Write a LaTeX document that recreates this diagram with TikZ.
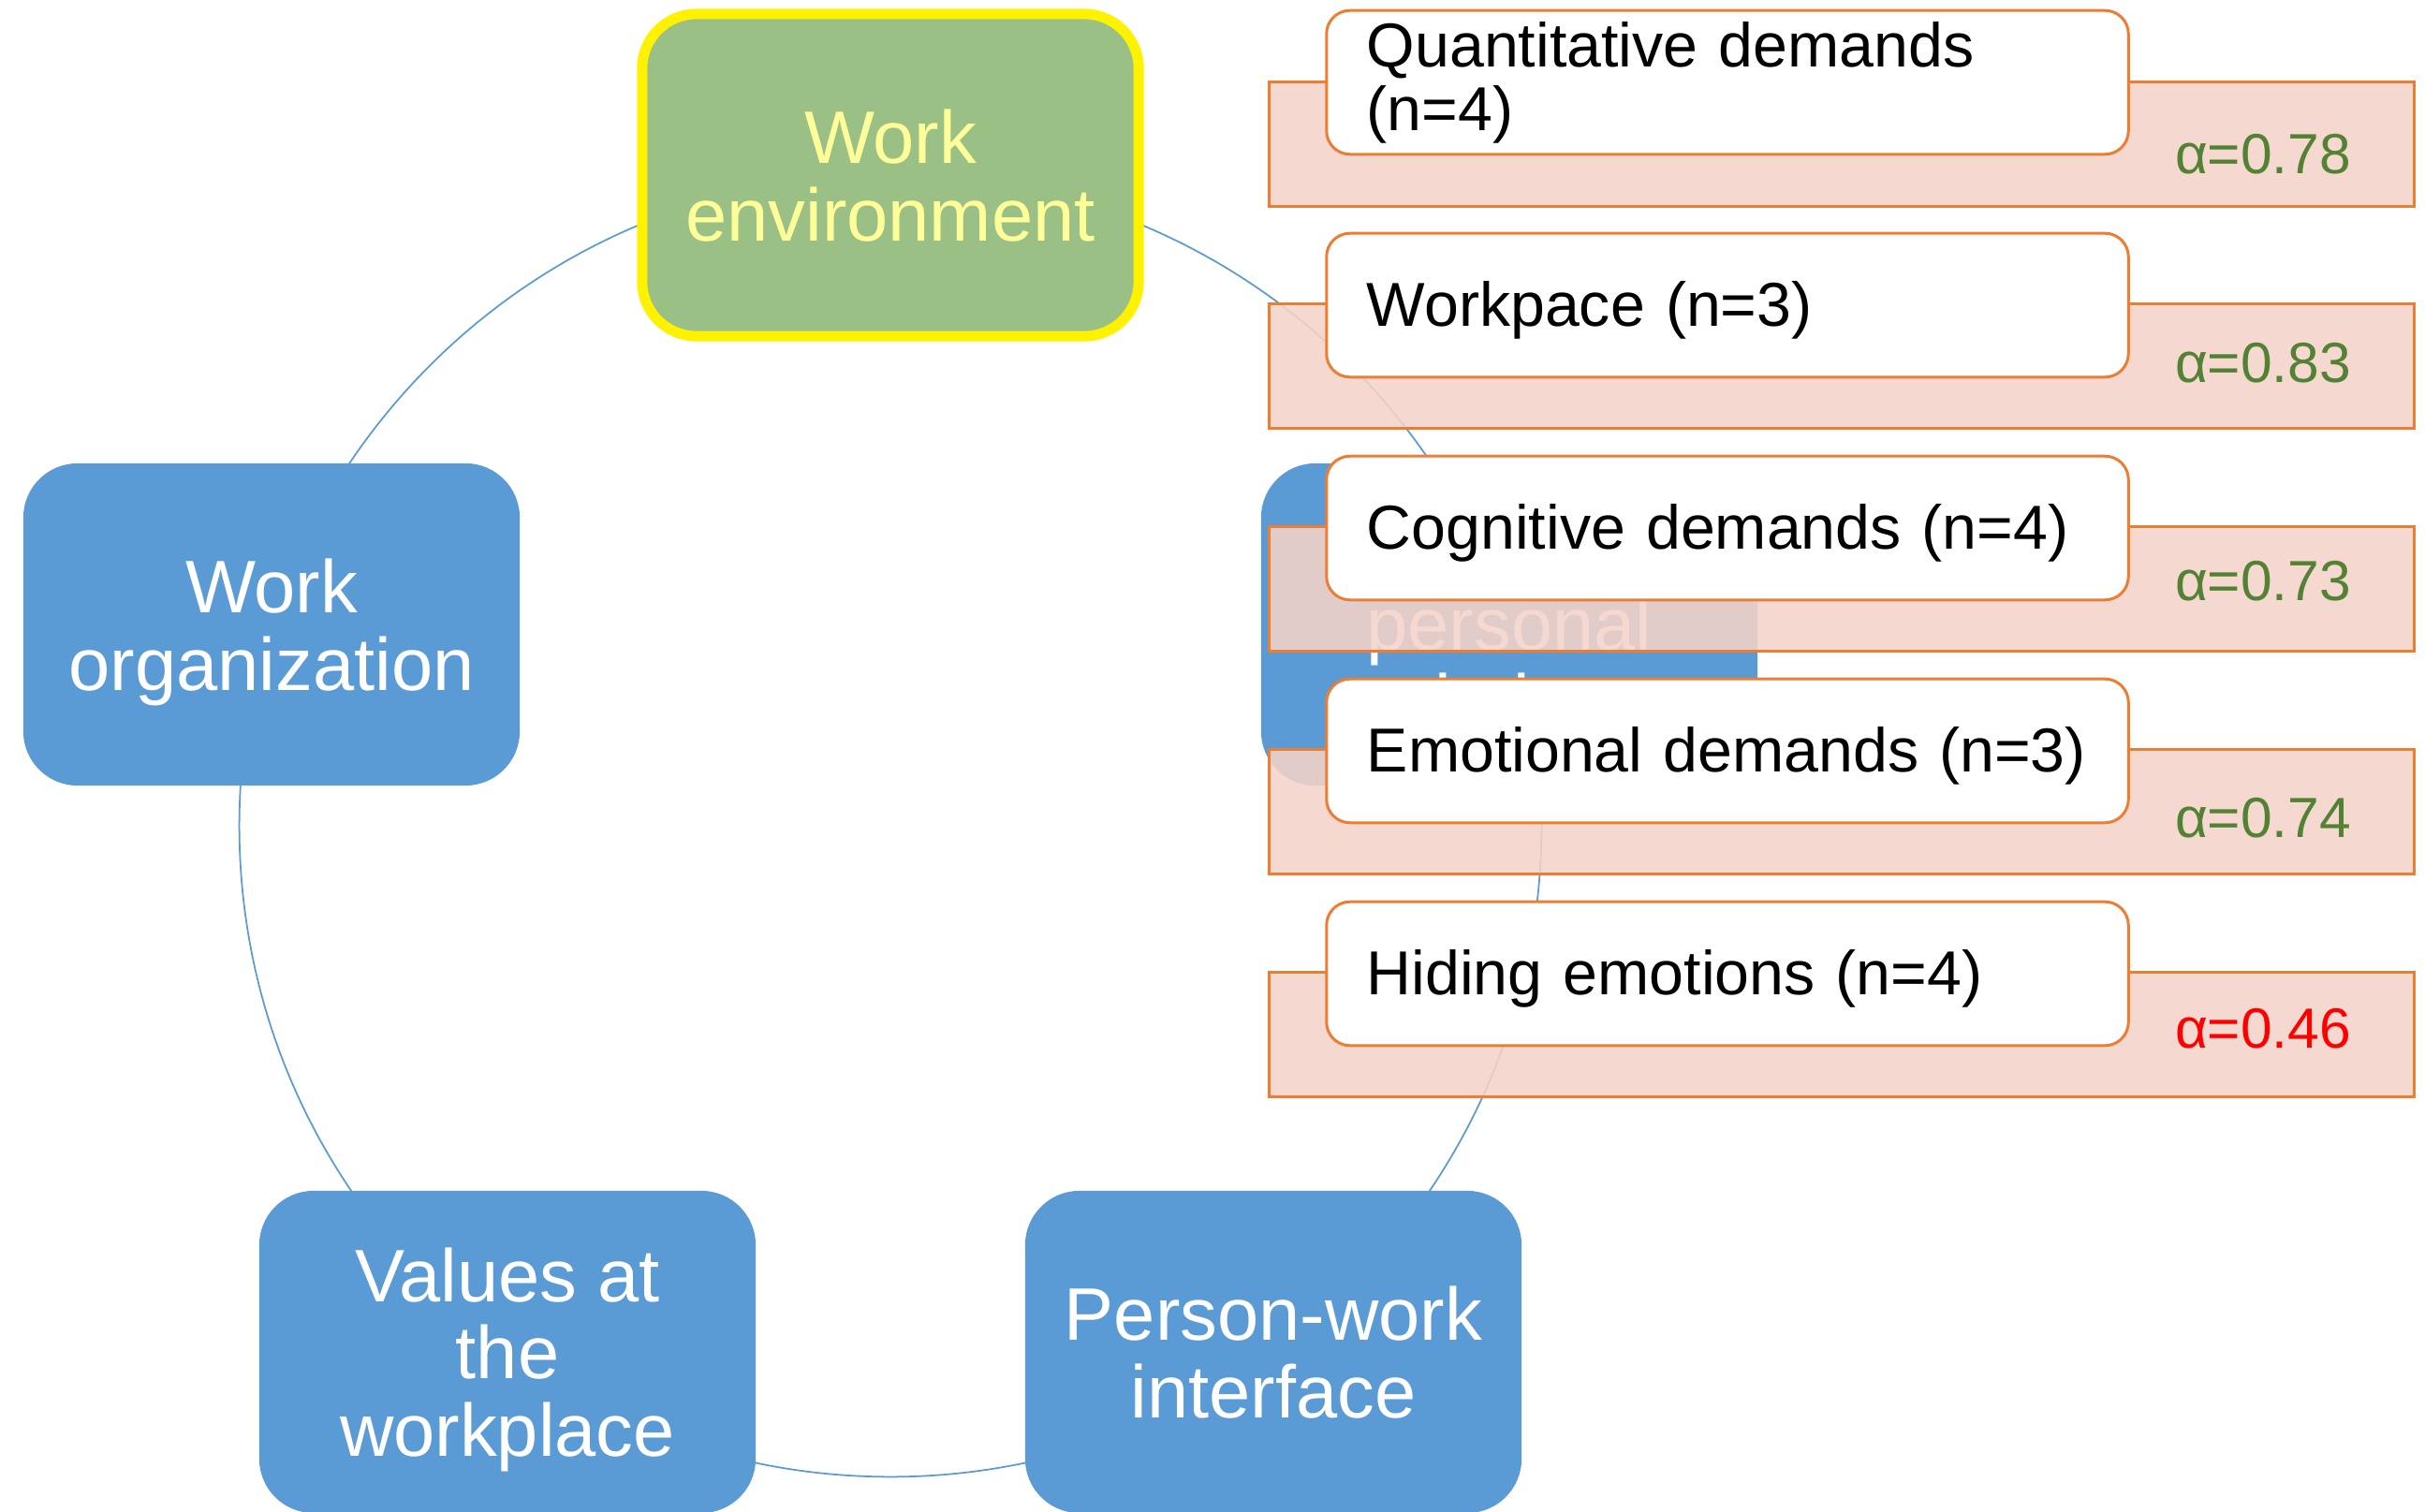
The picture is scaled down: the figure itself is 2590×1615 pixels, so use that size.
\documentclass[tikz,border=0pt]{standalone}
\usepackage{fontspec}
\setmainfont{Liberation Sans}
\usepackage{xcolor}

\definecolor{cycleblue}{RGB}{91,155,213}
\definecolor{envgreen}{RGB}{155,192,134}
\definecolor{envtext}{RGB}{255,255,153}
\definecolor{boxorange}{RGB}{237,125,49}
\definecolor{bgpink}{RGB}{244,211,201}
\definecolor{coefgreen}{RGB}{84,130,53}

\begin{document}
\begin{tikzpicture}[x=0.01cm, y=-0.01cm,
    domainbox/.style={rectangle, rounded corners=0.58cm, fill=cycleblue, text=white, align=center,
      minimum width=5.3cm, minimum height=3.44cm, inner sep=0pt, text depth=0pt,
      font=\fontsize{22.6}{23.5}\selectfont},
    scorebg/.style={rectangle, draw=boxorange, line width=0.85pt, fill=bgpink, fill opacity=0.88,
      minimum width=12.23cm, minimum height=1.32cm},
    itembox/.style={rectangle, rounded corners=0.25cm, draw=boxorange, line width=0.85pt, fill=white,
      text width=7.7cm, inner xsep=0.43cm, align=left, minimum height=1.535cm,
      font=\fontsize{18.85}{19.3}\selectfont},
    itemline/.style={itembox, text depth=0.06em},
    coef/.style={font=\fontsize{17.2}{18}\selectfont, text=coefgreen}]
  \useasboundingbox (0, 0) rectangle (2590, 1615);
  \coordinate (c) at (951, 882);
  \draw[cycleblue, line width = .5pt] (c) circle [radius = 6.95cm];

  \node [domainbox] (wo) at (290, 667) {Work\\organization};
  \node [domainbox] (va) at (542, 1444) {Values at\\the\\workplace};
  \node [domainbox] (pw) at (1360, 1444) {Person-work\\interface};
  \node [domainbox] (ir) at (1612, 667) {Inter-\\personal\\relations};
  \node [domainbox, fill=envgreen, draw=yellow, line width=0.11cm, text=envtext] (we) at (951, 187) {Work\\environment};

  \node [scorebg] (quantbg) at (1967, 154) {};
  \node [scorebg] (pacebg) at (1967, 391) {};
  \node [scorebg] (cognbg) at (1967, 629) {};
  \node [scorebg] (emotbg) at (1967, 867) {};
  \node [scorebg] (hidebg) at (1967, 1105) {};

  \node [itembox] (quant) at (1845, 88) {Quantitative demands\\(n=4)};
  \node [itemline] (pace) at (1845, 326) {Workpace (n=3)};
  \node [itemline] (cogn) at (1845, 564) {Cognitive demands (n=4)};
  \node [itemline] (emot) at (1845, 802) {Emotional demands (n=3)};
  \node [itemline] (hide) at (1845, 1040) {Hiding emotions (n=4)};

  \node [coef] (quanta) at (2417, 165) {α=0.78};
  \node [coef] (pacea) at (2417, 388) {α=0.83};
  \node [coef] (cogna) at (2417, 621) {α=0.73};
  \node [coef] (emota) at (2417, 874) {α=0.74};
  \node [coef, text=red] (hidea) at (2417, 1099) {α=0.46};
\end{tikzpicture}
\end{document}
